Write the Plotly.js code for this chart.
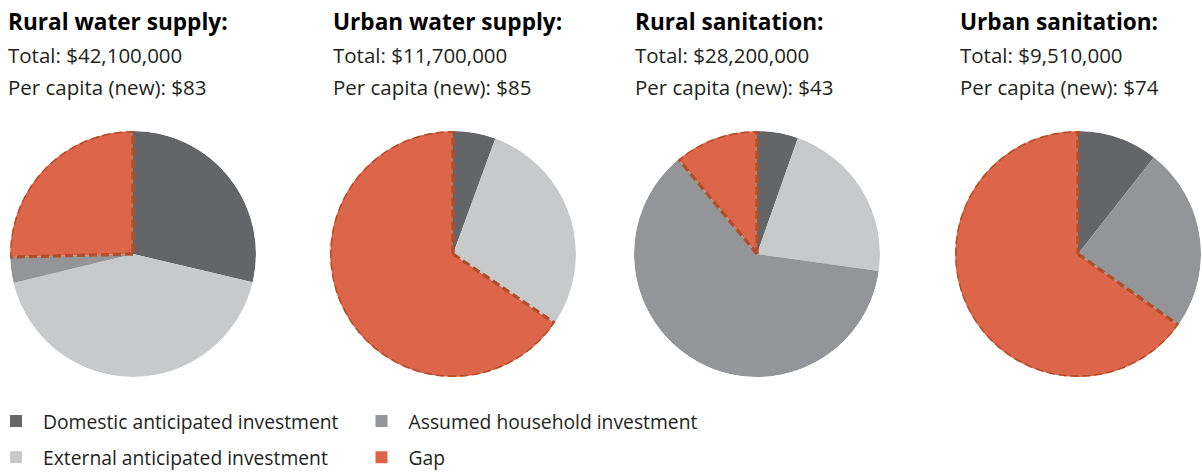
<!DOCTYPE html>
<html>
<head>
<meta charset="utf-8">
<script src="https://cdn.plot.ly/plotly-3.0.1.min.js"></script>
<style>html,body{margin:0;padding:0;background:#fff;}#chart{width:1202px;height:475px;}</style>
</head>
<body>
<div id="chart"></div>
<script>
// ---- data (shares of each total, %) ----
const categories = ['Domestic anticipated investment', 'External anticipated investment', 'Assumed household investment', 'Gap'];
const panelTitles = ['Rural water supply:', 'Urban water supply:', 'Rural sanitation:', 'Urban sanitation:'];
const panelTotals = ['$42,100,000', '$11,700,000', '$28,200,000', '$9,510,000'];
const panelPerCapita = ['$83', '$85', '$43', '$74'];
const ruralWater = [28.7, 42.5, 3.4, 25.4];
const urbanWater = [5.6, 28.9, 0, 65.5];
const ruralSanitation = [5.4, 21.8, 61.8, 11.0];
const urbanSanitation = [10.6, 0, 24.2, 65.2];
const panelValues = [ruralWater, urbanWater, ruralSanitation, urbanSanitation];

// ---- styling / layout ----
const W = 1202, H = 475;
const colors = ['#636569', '#c8c9cb', '#949599', '#dd654a'];
const gapLine = '#b14f28';
const textX = [6, 331, 633, 958];
const pieCX = [133, 453, 757, 1078];
const pieCY = 254, pieR = 123;
const legendOf = ['legend', 'legend', 'legend2', 'legend2'];
const FONT = 'Open Sans, Noto Sans, sans-serif';

const traces = [];
const legendBase = {xanchor: 'left', y: 1 - 402 / H, yanchor: 'top', orientation: 'v',
           itemwidth: 44, tracegroupgap: 8, font: {size: 19.3, color: '#231f20', family: FONT},
           bgcolor: 'rgba(0,0,0,0)', itemclick: false};
const layout = {
  width: W, height: H,
  margin: {l: 0, r: 0, t: 0, b: 0, autoexpand: false},
  paper_bgcolor: '#fff',
  plot_bgcolor: '#fff',
  font: {family: FONT, color: '#231f20'},
  annotations: [],
  legend: Object.assign({x: -11 / W}, legendBase),
  legend2: Object.assign({x: 354.5 / W}, legendBase),
  showlegend: true
};

panelValues.forEach((vals, p) => {
  const polarId = p === 0 ? 'polar' : 'polar' + (p + 1);
  layout[polarId] = {
    domain: {
      x: [(pieCX[p] - pieR) / W, (pieCX[p] + pieR) / W],
      y: [1 - (pieCY + pieR) / H, 1 - (pieCY - pieR) / H]
    },
    bgcolor: 'rgba(0,0,0,0)',
    bargap: 0,
    radialaxis: {visible: false, range: [0, 1]},
    angularaxis: {visible: false, rotation: 90, direction: 'clockwise'}
  };
  const total = vals.reduce((a, b) => a + b, 0);
  let start = 0;
  vals.forEach((v, c) => {
    const span = v / total * 360;
    if (span > 0 || p === 0) {
      traces.push({
        type: 'barpolar', subplot: polarId,
        r: [1], theta: [start + span / 2], width: [span], base: [0],
        name: categories[c], legendgroup: categories[c], legend: legendOf[c],
        showlegend: p === 0,
        marker: {color: colors[c], line: {width: 0}},
        hoverinfo: 'skip'
      });
    }
    if (c === 3 && span > 0) {
      // dashed outline of the gap slice
      const th = [start], rr = [0];
      const steps = Math.max(2, Math.ceil(span));
      for (let i = 0; i <= steps; i++) { th.push(start + span * i / steps); rr.push(1); }
      th.push(start + span); rr.push(0);
      traces.push({
        type: 'scatterpolar', subplot: polarId, mode: 'lines',
        r: rr, theta: th, showlegend: false, hoverinfo: 'skip', cliponaxis: false,
        line: {color: gapLine, width: 3.3, dash: '8px,4px'}
      });
    }
    start += span;
  });

  layout.annotations.push(
    {text: '<b>' + panelTitles[p] + '</b>', x: textX[p] / W, y: 1 - 22 / H, xref: 'paper', yref: 'paper',
     xanchor: 'left', yanchor: 'middle', showarrow: false, font: {size: 22.6, color: '#000', family: FONT}},
    {text: 'Total: ' + panelTotals[p], x: textX[p] / W, y: 1 - 55 / H, xref: 'paper', yref: 'paper',
     xanchor: 'left', yanchor: 'middle', showarrow: false, font: {size: 20.5, color: '#231f20', family: FONT}},
    {text: 'Per capita (new): ' + panelPerCapita[p], x: textX[p] / W, y: 1 - 87 / H, xref: 'paper', yref: 'paper',
     xanchor: 'left', yanchor: 'middle', showarrow: false, font: {size: 20.5, color: '#231f20', family: FONT}}
  );
});

Plotly.newPlot('chart', traces, layout, {displayModeBar: false, staticPlot: true});
</script>
</body>
</html>
